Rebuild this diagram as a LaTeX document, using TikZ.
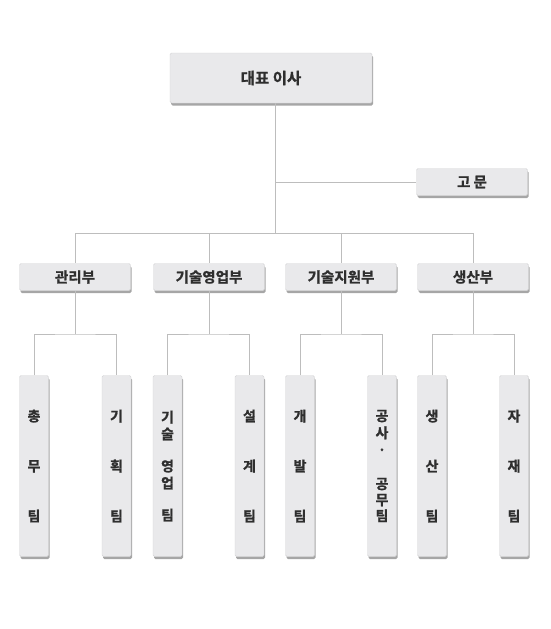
\documentclass[tikz,border=0pt]{standalone}
\usepackage{fontspec}
\newfontfamily\kr{Noto Sans CJK KR Bold}[FakeBold=1.2]
\usetikzlibrary{shadows}
\definecolor{boxfill}{HTML}{E9E9EB}
\definecolor{boxline}{HTML}{D4D4D6}
\definecolor{linecol}{HTML}{BDBDBD}
\definecolor{txt}{HTML}{2E2E2E}
\tikzset{
  x=1pt, y=-1pt,
  box/.style={draw=boxline, line width=0.4pt, fill=boxfill, rounded corners=1.5pt,
    drop shadow={shadow xshift=1pt, shadow yshift=-2.5pt, fill=black, opacity=0.35},
    text=txt, inner sep=0pt, font=\kr},
  deptbox/.style={box, minimum width=111pt, minimum height=27pt, font=\kr\fontsize{14.5}{16}\selectfont},
  teambox/.style={box, minimum width=29pt, minimum height=181pt, align=center,
    font=\kr\fontsize{14}{17}\selectfont},
  conn/.style={draw=linecol, line width=0.7pt},
}
\begin{document}
\begin{tikzpicture}
\useasboundingbox (0,0) rectangle (550,629);
\fill[white] (0,0) rectangle (550,629);
% top
\node[box, minimum width=202pt, minimum height=50pt, font=\kr\fontsize{15.5}{17}\selectfont] (ceo) at (271,78) {대표 이사};
\node[deptbox] (adv) at (472,182) {고 문};
% departments
\node[deptbox] (d1) at (75,277) {관리부};
\node[deptbox] (d2) at (209,277) {기술영업부};
\node[deptbox] (d3) at (341,277) {기술지원부};
\node[deptbox] (d4) at (473,277) {생산부};
% teams
\node[teambox] (t1) at (34,466) {총\\[33pt]무\\[33pt]팀};
\node[teambox] (t2) at (116.5,466) {기\\[33pt]획\\[33pt]팀};
\node[teambox] (t3) at (167.5,466) {기\\술\\[15pt]영\\업\\[15pt]팀};
\node[teambox] (t4) at (249.5,466) {설\\[33pt]계\\[33pt]팀};
\node[teambox] (t5) at (300,466) {개\\[33pt]발\\[33pt]팀};
\node[teambox] (t6) at (382,466) {공\\사\\·\\[17pt]공\\[-1pt]무\\[-1pt]팀};
\node[teambox] (t7) at (432,466) {생\\[33pt]산\\[33pt]팀};
\node[teambox] (t8) at (514,466) {자\\[33pt]재\\[33pt]팀};
% connectors
\coordinate (ctop) at ([xshift=4pt]ceo.south);
\coordinate (bus) at (ctop |- 0,233);
\coordinate (advj) at (ctop |- adv.west);
\draw[conn] (ctop) -- (bus);
\draw[conn] (advj) -- (adv.west);
\draw[conn] (d1.north |- bus) -- (d4.north |- bus);
\foreach \d in {d1,d2,d3,d4} \draw[conn] (\d.north |- bus) -- (\d.north);
\foreach \d/\a/\b in {d1/t1/t2, d2/t3/t4, d3/t5/t6, d4/t7/t8}{
  \coordinate (j\d) at (\d.south |- 0,334);
  \draw[conn] (\d.south) -- (j\d);
  \draw[conn] (\a.north) |- (j\d) -| (\b.north);
}
\end{tikzpicture}
\end{document}
